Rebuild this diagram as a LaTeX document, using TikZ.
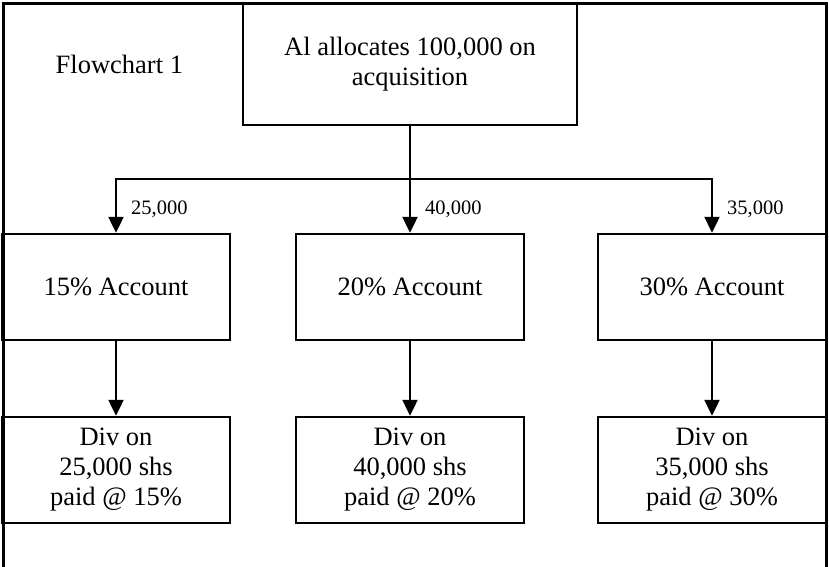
\documentclass[tikz,border=0pt]{standalone}
\usepackage{fontspec}
\setmainfont{Liberation Serif}
\usepackage{tikz}
\usetikzlibrary{positioning}
\usetikzlibrary{arrows.meta}
\tikzset{>={Triangle[width=15pt,length=16pt]}}

\begin{document}
\begin{tikzpicture}[x=1pt, y=-1pt, box/.style={draw=black, line width=2pt, minimum width=228pt, minimum height=106pt, inner sep=0pt, align=center, font=\fontsize{26.5}{30}\selectfont}, topbox/.style={box, line width=1.5pt, minimum width=334pt, minimum height=121pt}, plain/.style={draw=none, inner sep=0pt, font=\fontsize{26.5}{30}\selectfont}, amount/.style={draw=none, inner sep=0pt, anchor=west, xshift=14pt, font=\fontsize{20.5}{24}\selectfont}, frame/.style={line width=3pt}, link/.style={->, line width=2.4pt}]

    \useasboundingbox (0,0) rectangle (829,566);

    %Frame
    \draw[frame] (3,575) -- (3,3) -- (826,3) -- (826,575);

    %Nodes
    \node[topbox](alloc) at (410,64.5){Al allocates 100,000 on\\acquisition};
    \node[plain](title)[left=59pt of alloc]{Flowchart 1};
    \node[box](acc20)[below=107pt of alloc]{20\% Account};
    \node[box](acc15)[left=64pt of acc20]{15\% Account};
    \node[box](acc30)[right=72pt of acc20]{30\% Account};
    \node[box](div15)[below=75pt of acc15]{Div on\\25,000 shs\\paid @ 15\%};
    \node[box](div20)[below=75pt of acc20]{Div on\\40,000 shs\\paid @ 20\%};
    \node[box](div30)[below=75pt of acc30]{Div on\\35,000 shs\\paid @ 30\%};
    \path (alloc.south) ++(0,53) coordinate (split);

    %Lines
    \draw[link] (alloc.south) -- (acc20.north) node[amount, pos=0.78](amt20){40,000};
    \draw[link] (split) -| (acc15.north) node[amount, pos=0.78](amt15){25,000};
    \draw[link] (split) -| (acc30.north) node[amount, pos=0.78](amt30){35,000};
    \draw[link] (acc15.south) -- (div15.north);
    \draw[link] (acc20.south) -- (div20.north);
    \draw[link] (acc30.south) -- (div30.north);

\end{tikzpicture}
\end{document}
